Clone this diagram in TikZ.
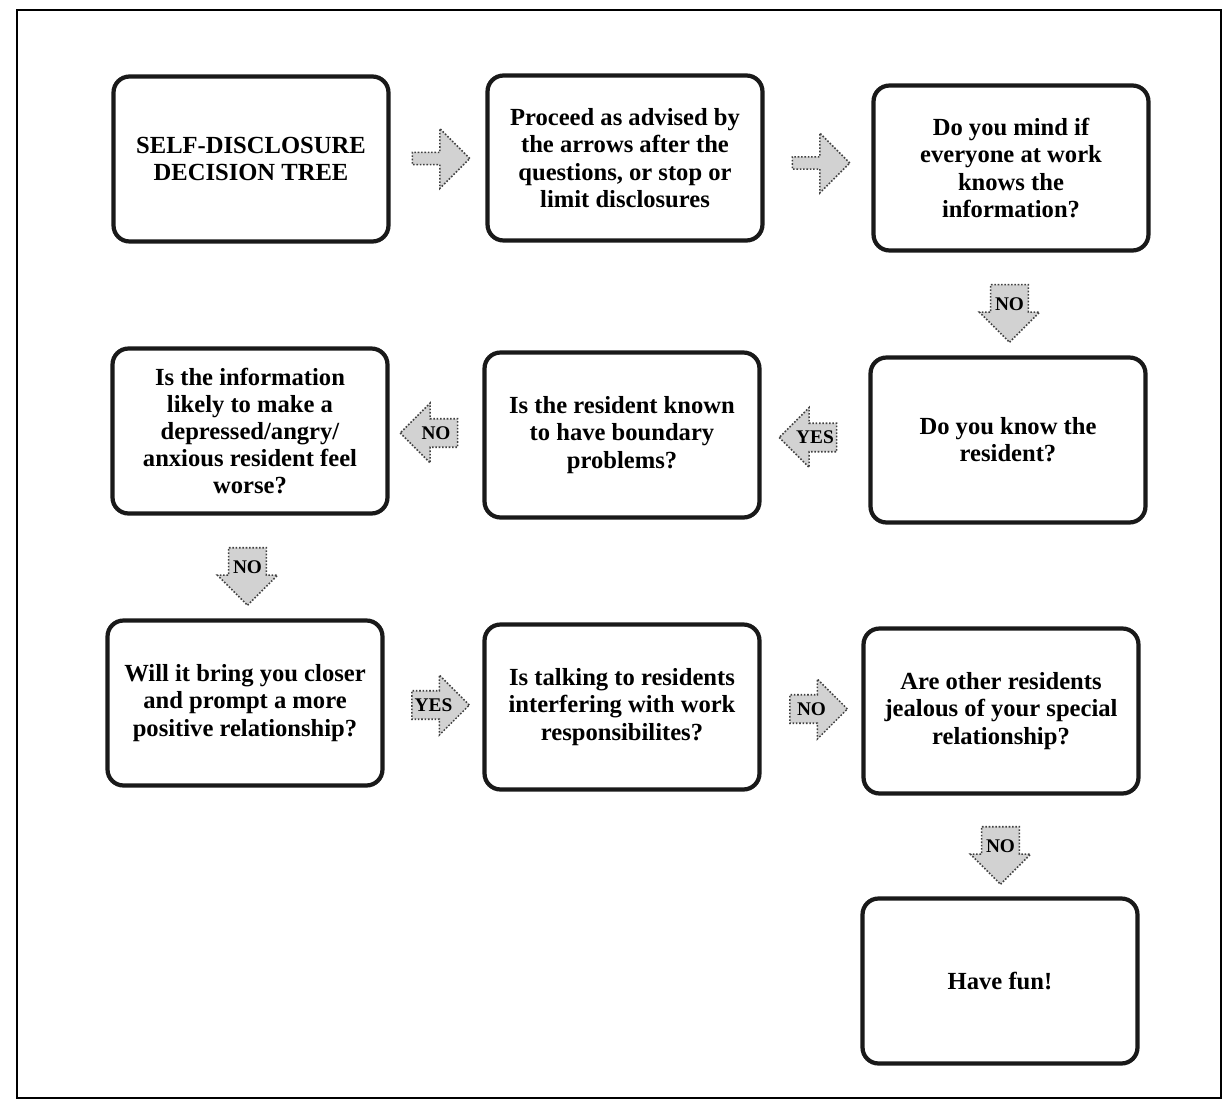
\documentclass[tikz,border=0pt]{standalone}
\usepackage{fontspec}
\setmainfont{Liberation Serif}
\usetikzlibrary{shapes.arrows,calc}

\begin{document}
\begin{tikzpicture}[x=0.02cm,y=-0.02cm,
  box node/.style={draw=black!90,line width=2.4pt,rounded corners=0.32cm,align=center,
    minimum width=5.5cm,minimum height=3.3cm,font=\fontsize{14}{15.5}\selectfont\bfseries},
  arrow node/.style={single arrow,draw=black!75,densely dotted,line width=0.9pt,fill=gray!35,
    minimum height=1.15cm,minimum width=1.2cm,single arrow head extend=0.2cm,inner sep=1pt,
    font=\fontsize{11}{11}\selectfont\bfseries}]
  \useasboundingbox (0,0) rectangle (1228,1115);
  \draw[line width=1.2pt] (17,10) rectangle (1221,1098);

  \node[box node] (1) at (251,159) {SELF-DISCLOSURE\\DECISION TREE};
  \node[box node] (2) at (625,158) {Proceed as advised by\\the arrows after the\\questions, or stop or\\limit disclosures};
  \node[box node] (3) at (1011,168) {Do you mind if\\everyone at work\\knows the\\information?};
  \node[box node] (4) at (250,431) {Is the information\\likely to make a\\depressed/angry/\\anxious resident feel\\worse?};
  \node[box node] (5) at (622,435) {Is the resident known\\to have boundary\\problems?};
  \node[box node] (6) at (1008,440) {Do you know the\\resident?};
  \node[box node] (7) at (245,703) {Will it bring you closer\\and prompt a more\\positive relationship?};
  \node[box node] (8) at (622,707) {Is talking to residents\\interfering with work\\responsibilites?};
  \node[box node] (9) at (1001,711) {Are other residents\\jealous of your special\\relationship?};
  \node[box node] (10) at (1000,981) {Have fun!};

  % arrows between the boxes
  \node[arrow node] (a1) at ($(1.east)!0.5!(2.west)$) {};
  \node[arrow node] (a2) at ($(2.east)!0.5!(3.west)$) {};
  \node[arrow node,shape border rotate=270] (a3) at ($(3.south)!0.5!(6.north)$) {NO};
  \node[arrow node,shape border rotate=180] (a4) at ($(6.west)!0.5!(5.east)$) {YES};
  \node[arrow node,shape border rotate=180] (a5) at ($(5.west)!0.5!(4.east)$) {NO};
  \node[arrow node,shape border rotate=270] (a6) at ($(4.south)!0.5!(7.north)$) {NO};
  \node[arrow node] (a7) at ($(7.east)!0.5!(8.west)$) {YES};
  \node[arrow node] (a8) at ($(8.east)!0.5!(9.west)$) {NO};
  \node[arrow node,shape border rotate=270] (a9) at ($(9.south)!0.5!(10.north)$) {NO};
\end{tikzpicture}
\end{document}
